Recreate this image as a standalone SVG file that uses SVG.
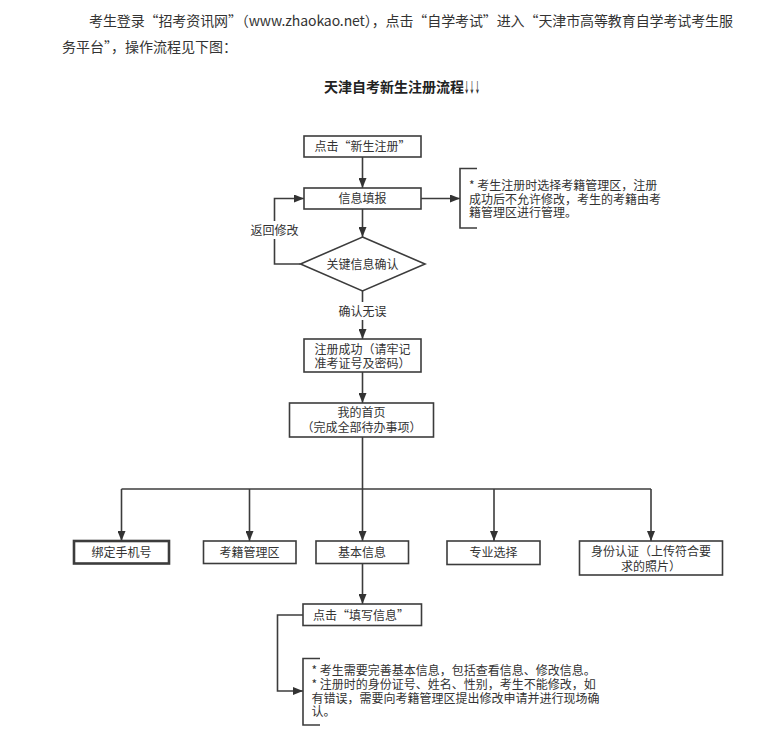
<svg xmlns="http://www.w3.org/2000/svg" width="763" height="746" viewBox="0 0 763 746">
<defs>
<marker id="arr" viewBox="0 0 10 8" refX="10" refY="4" markerWidth="10" markerHeight="8" markerUnits="userSpaceOnUse" orient="auto">
<path d="M0,0 L10,4 L0,8 z" fill="#333"/>
</marker>
</defs>
<style>
text{font-family:"Microsoft YaHei","Noto Sans CJK SC",sans-serif;fill:#333}
.p{font-size:14px}
.t{font-size:14px;font-weight:bold;fill:#222}
.n{font-size:12px;text-anchor:middle}
.l{font-size:12px}
.box{fill:#fff;stroke:#3c3c3c;stroke-width:1.6}
.ln{fill:none;stroke:#3c3c3c;stroke-width:1.6}
.a{marker-end:url(#arr)}
</style>
<rect width="763" height="746" fill="#fff"/>
<text class="p" x="89" y="25.5" textLength="644" lengthAdjust="spacing">考生登录“招考资讯网”（www.zhaokao.net），点击“自学考试”进入“天津市高等教育自学考试考生服</text>
<text class="p" x="62" y="52">务平台”，操作流程见下图：</text>
<text class="t" x="324" y="92">天津自考新生注册流程</text>
<text class="t" x="464" y="92" textLength="16" lengthAdjust="spacingAndGlyphs">↓↓↓</text>

<g id="connectors">
<path class="ln a" d="M362.5,157 V188"/>
<path class="ln a" d="M421,198.5 H460"/>
<path class="ln a" d="M362.5,209 V237"/>
<path class="ln a" d="M300.5,264 H274.5 V198.5 H304"/>
<path class="ln a" d="M362.5,291 V339"/>
<path class="ln a" d="M362.5,372 V403"/>
<path class="ln a" d="M362.5,437 V541"/>
<path class="ln" d="M121.5,489 H651"/>
<path class="ln a" d="M121.5,489 V541"/>
<path class="ln a" d="M249.5,489 V541"/>
<path class="ln a" d="M494,489 V541"/>
<path class="ln a" d="M651,489 V541"/>
<path class="ln a" d="M362.5,564 V604"/>
<path class="ln a" d="M303,615 H277.5 V691 H303"/>
<rect x="250" y="221" width="49" height="18" fill="#fff"/>
<text class="n" x="274.5" y="234.5">返回修改</text>
<rect x="337" y="302" width="51" height="18" fill="#fff"/>
<text class="n" x="362.5" y="315.5">确认无误</text>
</g>

<g id="n1">
<rect class="box" x="304" y="136" width="117" height="21"/>
<text class="n" x="362.5" y="151">点击“新生注册”</text>
</g>
<g id="n2">
<rect class="box" x="304" y="188" width="117" height="21"/>
<text class="n" x="362.5" y="203">信息填报</text>
</g>
<g id="note1">
<path class="ln" d="M477,168.5 H460 V228 H477"/>
<text class="l" x="469" y="189.5">* 考生注册时选择考籍管理区，注册</text>
<text class="l" x="469" y="203.5">成功后不允许修改，考生的考籍由考</text>
<text class="l" x="469" y="217">籍管理区进行管理。</text>
</g>
<g id="n3">
<polygon class="box" points="362.5,237 425,264 362.5,291 300.5,264"/>
<text class="n" x="362.5" y="268.5">关键信息确认</text>
</g>
<g id="n4">
<rect class="box" x="304" y="339" width="117" height="33"/>
<text class="n" x="362.5" y="354">注册成功（请牢记</text>
<text class="n" x="362.5" y="367.5">准考证号及密码）</text>
</g>
<g id="n5">
<rect class="box" x="289.5" y="403" width="144" height="34"/>
<text class="n" x="361.5" y="416.5">我的首页</text>
<text class="n" x="361.5" y="431.5">（完成全部待办事项）</text>
</g>
<g id="n6">
<rect class="box" x="74" y="541" width="95" height="22.5" style="stroke-width:2.6"/>
<text class="n" x="121.5" y="556.5">绑定手机号</text>
</g>
<g id="n7">
<rect class="box" x="203.5" y="541" width="92.5" height="22.5"/>
<text class="n" x="249.5" y="556.5">考籍管理区</text>
</g>
<g id="n8">
<rect class="box" x="316" y="541" width="92.5" height="22.5"/>
<text class="n" x="362" y="556.5">基本信息</text>
</g>
<g id="n9">
<rect class="box" x="447" y="541" width="93" height="23.5"/>
<text class="n" x="493.5" y="557">专业选择</text>
</g>
<g id="n10">
<rect class="box" x="579.5" y="541" width="143" height="34"/>
<text class="n" x="651" y="556">身份认证（上传符合要</text>
<text class="n" x="651" y="571">求的照片）</text>
</g>
<g id="n11">
<rect class="box" x="303" y="604" width="118.5" height="21.5"/>
<text class="n" x="361" y="619.5">点击“填写信息”</text>
</g>
<g id="note2">
<path class="ln" d="M320,658.5 H303 V725 H320"/>
<text class="l" x="311.5" y="674.5">* 考生需要完善基本信息，包括查看信息、修改信息。</text>
<text class="l" x="311.5" y="688.5">* 注册时的身份证号、姓名、性别，考生不能修改，如</text>
<text class="l" x="311.5" y="702.5">有错误，需要向考籍管理区提出修改申请并进行现场确</text>
<text class="l" x="311.5" y="716">认。</text>
</g>
</svg>
